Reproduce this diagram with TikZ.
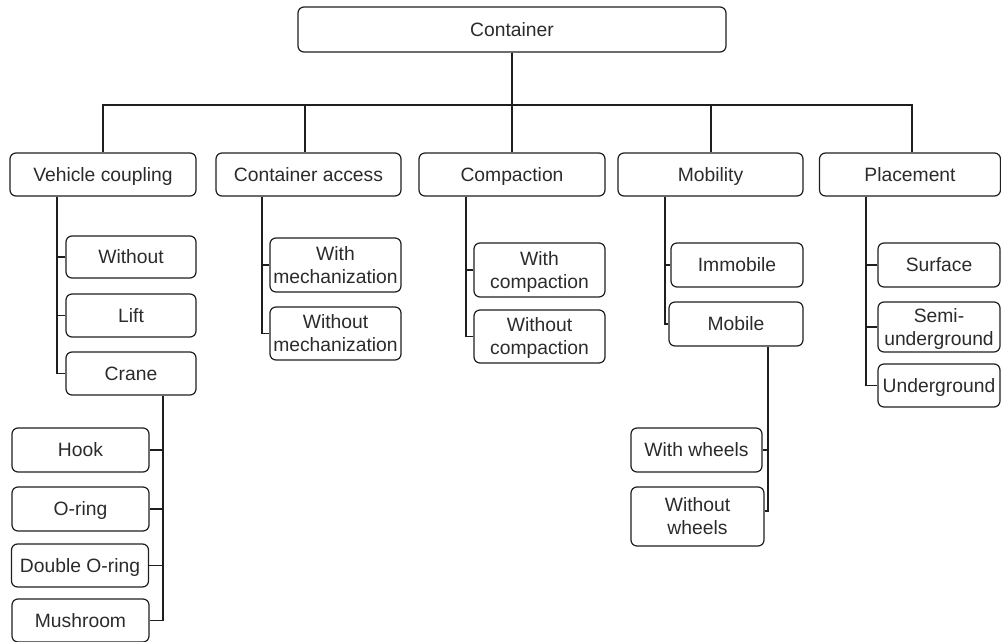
\documentclass[tikz,border=0pt]{standalone}
\usepackage{fontspec}
\setmainfont{Liberation Sans}
\usetikzlibrary{calc}
\definecolor{ink}{HTML}{1E1E1E}
\definecolor{txt}{HTML}{2B2B2B}
\begin{document}
\begin{tikzpicture}[x=1pt,y=-1pt,
  box/.style={draw=ink, line width=1.2pt, rounded corners=6pt, inner sep=0pt,
    align=center, text=txt, font=\fontsize{19.3}{23}\selectfont,
    text height=13.8pt, text depth=0pt},
  twoline/.style={text height=36.8pt},
  link/.style={draw=ink, line width=1.3pt}]
\useasboundingbox (0,0) rectangle (1001,642);

% root
\node[box, minimum width=428, minimum height=45] (root) at (512,29.5) {Container};

% first level
\node[box, minimum width=186, minimum height=43] (vc) at (103,174.5) {Vehicle coupling};
\node[box, minimum width=185, minimum height=43] (ca) at (308.5,174.5) {Container access};
\node[box, minimum width=186, minimum height=43] (co) at (512,174.5) {Compaction};
\node[box, minimum width=185, minimum height=43] (mo) at (710.5,174.5) {Mobility};
\node[box, minimum width=181, minimum height=43] (pl) at (910,174.5) {Placement};

% vehicle coupling
\node[box, minimum width=130, minimum height=42] (without) at (131,257) {Without};
\node[box, minimum width=130, minimum height=43] (lift) at (131,315.5) {Lift};
\node[box, minimum width=130, minimum height=43] (crane) at (131,373.5) {Crane};
\node[box, minimum width=137, minimum height=44] (hook) at (80.5,450) {Hook};
\node[box, minimum width=137, minimum height=44] (oring) at (80.5,509) {O-ring};
\node[box, minimum width=137, minimum height=43] (doring) at (80,565.5) {Double O-ring};
\node[box, minimum width=137, minimum height=43] (mush) at (80.5,620.5) {Mushroom};

% container access
\node[box, twoline, minimum width=131, minimum height=54] (wmech) at (335.5,265) {With\\mechanization};
\node[box, twoline, minimum width=131, minimum height=53] (womech) at (335.5,333.5) {Without\\mechanization};

% compaction
\node[box, twoline, minimum width=131, minimum height=54] (wcomp) at (539.5,270) {With\\compaction};
\node[box, twoline, minimum width=131, minimum height=53] (wocomp) at (539.5,336.5) {Without\\compaction};

% mobility
\node[box, minimum width=132, minimum height=44] (immob) at (737,265) {Immobile};
\node[box, minimum width=134, minimum height=44] (mob) at (736,324) {Mobile};
\node[box, minimum width=131, minimum height=44] (wwh) at (696.5,450) {With wheels};
\node[box, twoline, minimum width=133, minimum height=59] (wowh) at (697.5,516.5) {Without\\wheels};

% placement
\node[box, minimum width=122, minimum height=44] (surf) at (939,265) {Surface};
\node[box, twoline, minimum width=122, minimum height=50] (semi) at (939,327) {Semi-\\underground};
\node[box, minimum width=122, minimum height=43] (under) at (939,385.5) {Underground};

% root to first level (stems sit slightly off some box centres)
\coordinate (bus) at (512,105);
\coordinate (svc) at (103,0);
\coordinate (sca) at (305,0);
\coordinate (sco) at (512,0);
\coordinate (smo) at (711,0);
\coordinate (spl) at (912,0);
\foreach \c in {vc,ca,co,mo,pl}
  \draw[link] (root.south) -- (root.south |- bus) -| (\c.north -| s\c);

% first level to second level
\coordinate (tvc) at (57,0);
\coordinate (tca) at (262,0);
\coordinate (tco) at (466,0);
\coordinate (tmo) at (665,0);
\coordinate (tpl) at (866,0);
\foreach \c in {without,lift,crane} \draw[link] (vc.south -| tvc) |- (\c.west);
\foreach \c in {wmech,womech} \draw[link] (ca.south -| tca) |- (\c.west);
\foreach \c in {wcomp,wocomp} \draw[link] (co.south -| tco) |- (\c.west);
\foreach \c in {immob,mob} \draw[link] (mo.south -| tmo) |- (\c.west);
\foreach \c in {surf,semi,under} \draw[link] (pl.south -| tpl) |- (\c.west);

% crane to its fittings
\coordinate (tcr) at (163,0);
\foreach \c in {hook,oring,doring,mush} \draw[link] (crane.south -| tcr) |- (\c.east);

% mobile to wheel options
\coordinate (tmb) at (768,0);
\draw[link] (mob.south -| tmb) |- (wwh.east);
\draw[link] (mob.south -| tmb) |- ($(wowh.east)+(0,-5.5)$);
\end{tikzpicture}
\end{document}
